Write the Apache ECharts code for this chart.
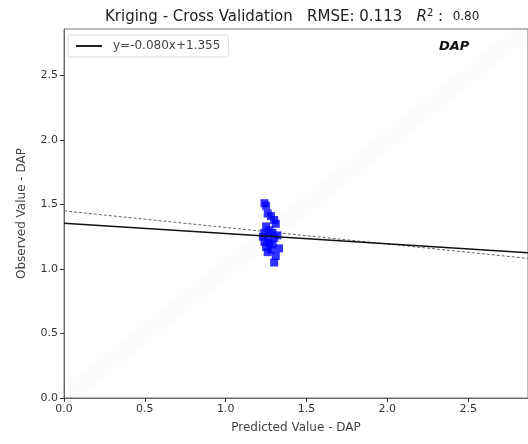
<!DOCTYPE html>
<html><head><meta charset="utf-8">
<script src="https://cdn.jsdelivr.net/npm/echarts@6/dist/echarts.min.js"></script>
<style>html,body{margin:0;padding:0;background:#fff}#c{width:528px;height:444px}</style>
</head><body><div id="c"></div>
<script>
const predicted = [1.24,1.25,1.26,1.28,1.30,1.31,1.25,1.27,1.24,1.29,1.23,1.26,1.30,1.32,1.24,1.27,1.29,1.25,1.28,1.33,1.26,1.31,1.30];
const observed  = [1.51,1.49,1.43,1.41,1.38,1.35,1.33,1.30,1.28,1.28,1.25,1.24,1.24,1.26,1.21,1.20,1.19,1.17,1.15,1.16,1.13,1.10,1.05];
const fitSlope = -0.080, fitIntercept = 1.355;
const dashedEnds = [[0, 1.45], [2.87, 1.082]];
const tickValues = [0, 0.5, 1.0, 1.5, 2.0, 2.5];
const xMax = 2.87, yMax = 2.86;
const titleMain = 'Kriging - Cross Validation   RMSE: 0.113   ';
const r2Value = '0.80';
const legendLabel = 'y=-0.080x+1.355';
const xName = 'Predicted Value - DAP', yName = 'Observed Value - DAP';
const tag = 'DAP';

const font = 'DejaVu Sans';
const pts = predicted.map((x, i) => [x, observed[i]]);
const fitLine = [0, xMax].map(x => [x, fitIntercept + fitSlope * x]);
const chart = echarts.init(document.getElementById('c'));
const axisCommon = {
  type: 'value', min: 0, nameLocation: 'middle',
  nameTextStyle: {fontFamily: font, fontSize: 12, color: '#444'},
  axisLine: {show: true, lineStyle: {color: '#666', width: 1}},
  axisTick: {show: true, inside: false, length: 4, lineStyle: {color: '#333'}, customValues: tickValues},
  axisLabel: {fontFamily: font, fontSize: 11, color: '#333', margin: 6, customValues: tickValues, formatter: v => v.toFixed(1)},
  splitLine: {show: false}
};
chart.setOption({
  animation: false,
  backgroundColor: '#fff',
  title: {
    text: titleMain + '{i|R}{sup|2}{n| :  }{s|' + r2Value + '}',
    left: 100, top: 3,
    textStyle: {fontFamily: font, fontSize: 15, fontWeight: 'normal', color: '#222',
      rich: {
        i: {fontFamily: font, fontSize: 15, fontStyle: 'italic', color: '#222'},
        sup: {fontFamily: font, fontSize: 10, color: '#222', verticalAlign: 'top', padding: [0,0,8,0]},
        n: {fontFamily: font, fontSize: 15, color: '#222'},
        s: {fontFamily: font, fontSize: 12, color: '#222'}
      }}
  },
  graphic: [{type: 'text', left: 439, top: 40, style: {text: tag, font: 'italic bold 13px "DejaVu Sans"', fill: '#111'}}],
  legend: {
    left: 68, top: 35, orient: 'vertical',
    data: [{name: legendLabel, icon: 'rect'}],
    itemWidth: 26, itemHeight: 2, itemGap: 0,
    borderColor: '#ddd', borderWidth: 1, borderRadius: 2, padding: [5, 8, 5, 8],
    textStyle: {fontFamily: font, fontSize: 12, color: '#444', padding: [0, 0, 0, 6]}
  },
  grid: {left: 64, top: 29, right: -2, bottom: 46, show: true, borderColor: '#777', borderWidth: 1},
  xAxis: Object.assign({}, axisCommon, {max: xMax, name: xName, nameGap: 24}),
  yAxis: Object.assign({}, axisCommon, {max: yMax, name: yName, nameGap: 36}),
  series: [
    {type: 'line', name: 'one', data: [[0,0],[yMax,yMax]], symbol: 'none', silent: true,
      lineStyle: {color: 'rgba(0,0,0,0.012)', width: 18}, z: 1},
    {type: 'line', name: 'dash', data: dashedEnds, symbol: 'none', lineStyle: {color: '#666', width: 1, type: [3, 2]}, z: 3},
    {type: 'scatter', name: 'pts', data: pts, symbol: 'rect', symbolSize: 8, itemStyle: {color: '#0000ff'}, z: 4},
    {type: 'line', name: legendLabel, data: fitLine, symbol: 'none', itemStyle: {color: '#222'}, lineStyle: {color: '#111', width: 1.5}, z: 5}
  ]
});
</script></body></html>
